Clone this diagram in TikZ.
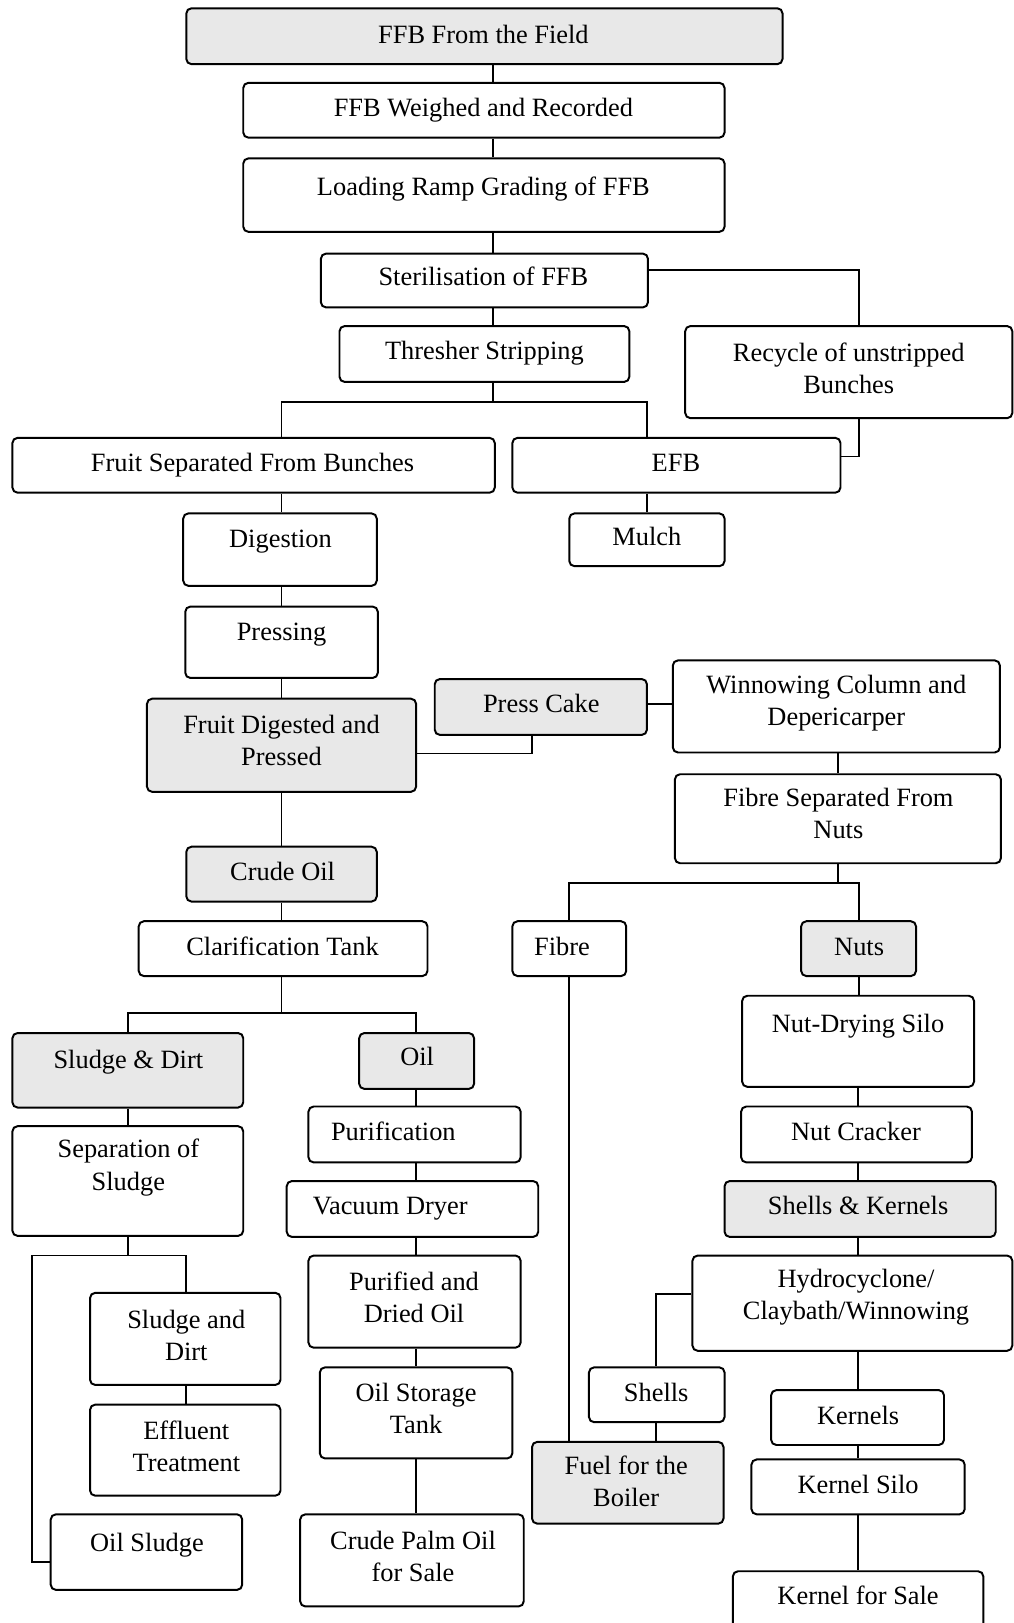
\documentclass[tikz,border=0pt]{standalone}
\usepackage{fontspec}
\setmainfont{Liberation Serif}
\usetikzlibrary{fit}
\tikzset{
  box/.style={draw, line width=1.9pt, rounded corners=5pt, inner sep=0pt},
  shaded/.style={fill=black!9},
  txt/.style={font=\fontsize{25.5}{31}\selectfont, align=center, inner sep=0pt},
  oneline/.style={text height=17.5pt, text depth=0pt},
  conn/.style={line width=1.8pt}
}
% single-line box
\newcommand\pbox[8][]{%
  \node[box,#1,fit={(#3,#4)(#5,#6)}] (#2) {};
  \node[txt,oneline] (#2-t) at (#7) {#8};
}
% two-line box
\newcommand\pboxtwo[8][]{%
  \node[box,#1,fit={(#3,#4)(#5,#6)}] (#2) {};
  \node[txt] (#2-t) at (#7) {#8};
}
\begin{document}
\begin{tikzpicture}[x=1pt,y=-1pt]
\useasboundingbox (0,0) rectangle (979,1568);
% boxes
\pbox[shaded]{field}{180}{8}{756}{62}{467,33}{FFB From the Field}
\pbox{weigh}{235}{80}{700}{133}{467,104}{FFB Weighed and Recorded}
\pbox{load}{235}{153}{700}{224}{467,180}{Loading Ramp Grading of FFB}
\pbox{steril}{310}{245}{626}{297}{467,267}{Sterilisation of FFB}
\pbox{thresh}{328}{315}{608}{369}{468,339}{Thresher Stripping}
\pboxtwo{recycle}{662}{315}{978}{404}{820,356}{Recycle of unstripped\\Bunches}
\pbox{fruitsep}{12}{423}{478}{476}{244,447}{Fruit Separated From Bunches}
\pbox{efb}{495}{423}{812}{476}{653,447}{EFB}
\pbox{dig}{177}{496}{364}{566}{271,520}{Digestion}
\pbox{mulch}{550}{496}{700}{547}{625,518}{Mulch}
\pbox{press}{179}{586}{365}{655}{272,610}{Pressing}
\pbox[shaded]{presscake}{420}{656}{625}{710}{523,680}{Press Cake}
\pboxtwo{winn}{650}{638}{966}{727}{808,679}{Winnowing Column and\\Depericarper}
\pboxtwo[shaded]{fdp}{142}{675}{402}{765}{272,715}{Fruit Digested and\\Pressed}
\pboxtwo{fibsep}{652}{748}{967}{834}{810,786}{Fibre Separated From\\Nuts}
\pbox[shaded]{crude}{180}{818}{364}{871}{273,842}{Crude Oil}
\pbox{clar}{134}{890}{413}{943}{273,914}{Clarification Tank}
\pbox{fibre}{495}{890}{605}{943}{543,914}{Fibre}
\pbox[shaded]{nuts}{774}{890}{885}{943}{830,914}{Nuts}
\pbox[shaded]{sludge}{12}{998}{235}{1070}{124,1024}{Sludge \& Dirt}
\pbox[shaded]{oil}{347}{998}{458}{1052}{403,1021}{Oil}
\pbox{silo}{717}{962}{941}{1050}{829,989}{Nut-Drying Silo}
\pboxtwo{sep}{12}{1088}{235}{1194}{124,1128}{Separation of\\Sludge}
\pbox{purif}{298}{1069}{503}{1123}{380,1093}{Purification}
\pbox{cracker}{716}{1069}{939}{1123}{827,1093}{Nut Cracker}
\pbox{vac}{277}{1141}{520}{1195}{377,1165}{Vacuum Dryer}
\pbox[shaded]{shk}{700}{1141}{962}{1195}{829,1165}{Shells \& Kernels}
\pboxtwo{sd2}{87}{1249}{271}{1338}{180,1290}{Sludge and\\Dirt}
\pboxtwo{purified}{298}{1213}{503}{1302}{400,1253}{Purified and\\Dried Oil}
\pboxtwo{hydro}{669}{1213}{978}{1305}{827,1253}{Hydrocyclone/\\Claybath/Winnowing}
\pbox{shells}{569}{1321}{700}{1374}{634,1345}{Shells}
\pboxtwo{eff}{87}{1357}{271}{1445}{180,1397}{Effluent\\Treatment}
\pboxtwo{storage}{309}{1321}{495}{1409}{402,1361}{Oil Storage\\Tank}
\pbox{kernels}{745}{1343}{912}{1396}{829,1367}{Kernels}
\pboxtwo[shaded]{fuel}{514}{1393}{699}{1472}{605,1431}{Fuel for the\\Boiler}
\pbox{ksilo}{726}{1410}{932}{1463}{829,1434}{Kernel Silo}
\pbox{osl}{49}{1463}{234}{1536}{142,1490}{Oil Sludge}
\pboxtwo{cpo}{290}{1463}{506}{1552}{399,1504}{Crude Palm Oil\\for Sale}
\pbox{ksale}{708}{1518}{950}{1590}{829,1541}{Kernel for Sale}
% helper coordinates
\coordinate (xA) at (476,0);
\coordinate (xR) at (830,0);
\coordinate (xF) at (272,0);
\coordinate (xE) at (625,0);
\coordinate (xPC) at (514,0);
\coordinate (xW) at (810,0);
\coordinate (xFi) at (550,0);
\coordinate (xNu) at (830,0);
\coordinate (xK) at (829,0);
\coordinate (xSh) at (634,0);
\coordinate (xSD) at (124,0);
\coordinate (xOil) at (402,0);
\coordinate (xSd2) at (180,0);
\coordinate (xL) at (31,0);
\coordinate (yS) at (0,261);
\coordinate (yT) at (0,388);
\coordinate (yE) at (0,441);
\coordinate (yP) at (0,728);
\coordinate (yW) at (0,680);
\coordinate (yN) at (0,853);
\coordinate (yC) at (0,979);
\coordinate (yS2) at (0,1213);
\coordinate (yOS) at (0,1509);
\coordinate (yH) at (0,1250);
% connectors
\draw[conn] (xA |- field.south) -- (xA |- weigh.north);
\draw[conn] (xA |- weigh.south) -- (xA |- load.north);
\draw[conn] (xA |- load.south) -- (xA |- steril.north);
\draw[conn] (xA |- steril.south) -- (xA |- thresh.north);
\draw[conn] (steril.east |- yS) -| (xR |- recycle.north);
\draw[conn] (xA |- thresh.south) -- (xA |- yT);
\draw[conn] (xF |- fruitsep.north) |- (xE |- yT) -- (xE |- efb.north);
\draw[conn] (xR |- recycle.south) |- (efb.east |- yE);
\draw[conn] (xF |- fruitsep.south) -- (xF |- dig.north);
\draw[conn] (xE |- efb.south) -- (xE |- mulch.north);
\draw[conn] (xF |- dig.south) -- (xF |- press.north);
\draw[conn] (xF |- press.south) -- (xF |- fdp.north);
\draw[conn] (fdp.east |- yP) -| (xPC |- presscake.south);
\draw[conn] (presscake.east |- yW) -- (winn.west |- yW);
\draw[conn] (xF |- fdp.south) -- (xF |- crude.north);
\draw[conn] (xW |- winn.south) -- (xW |- fibsep.north);
\draw[conn] (xW |- fibsep.south) -- (xW |- yN);
\draw[conn] (xFi |- fibre.north) |- (xNu |- yN) -- (xNu |- nuts.north);
\draw[conn] (xFi |- fibre.south) -- (xFi |- fuel.north);
\draw[conn] (xNu |- nuts.south) -- (xNu |- silo.north);
\draw[conn] (xK |- silo.south) -- (xK |- cracker.north);
\draw[conn] (xK |- cracker.south) -- (xK |- shk.north);
\draw[conn] (xK |- shk.south) -- (xK |- hydro.north);
\draw[conn] (hydro.west |- yH) -| (xSh |- shells.north);
\draw[conn] (xK |- hydro.south) -- (xK |- kernels.north);
\draw[conn] (xSh |- shells.south) -- (xSh |- fuel.north);
\draw[conn] (xK |- kernels.south) -- (xK |- ksilo.north);
\draw[conn] (xK |- ksilo.south) -- (xK |- ksale.north);
\draw[conn] (xF |- crude.south) -- (xF |- clar.north);
\draw[conn] (xF |- clar.south) -- (xF |- yC);
\draw[conn] (xSD |- sludge.north) |- (xOil |- yC) -- (xOil |- oil.north);
\draw[conn] (xSD |- sludge.south) -- (xSD |- sep.north);
\draw[conn] (xOil |- oil.south) -- (xOil |- purif.north);
\draw[conn] (xOil |- purif.south) -- (xOil |- vac.north);
\draw[conn] (xOil |- vac.south) -- (xOil |- purified.north);
\draw[conn] (xOil |- purified.south) -- (xOil |- storage.north);
\draw[conn] (xOil |- storage.south) -- (xOil |- cpo.north);
\draw[conn] (xSD |- sep.south) -- (xSD |- yS2);
\draw[conn] (xSd2 |- sd2.north) |- (xL |- yS2) |- (osl.west |- yOS);
\draw[conn] (xSd2 |- sd2.south) -- (xSd2 |- eff.north);
\end{tikzpicture}
\end{document}
